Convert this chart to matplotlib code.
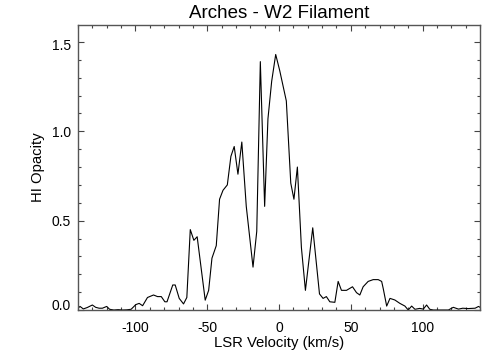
import matplotlib
matplotlib.use("Agg")
import matplotlib.pyplot as plt
import matplotlib.transforms as mtransforms
from matplotlib.ticker import MultipleLocator

velocity = [-140.0, -138.6, -136.3, -133.5, -130.0, -127.7, -125.3, -123.0, -120.0, -118.0,
            -115.0, -112.0, -109.0, -106.0, -103.0, -101.0, -99.8, -97.4, -95.0, -91.6,
            -87.4, -84.6, -82.0, -79.5, -78.0, -74.0, -72.3, -69.5, -66.5, -64.2,
            -61.8, -59.3, -57.0, -51.4, -49.0, -46.7, -43.7, -41.4, -39.0, -36.0,
            -33.5, -31.2, -28.6, -25.9, -22.8, -18.1, -15.5, -13.0, -10.0, -7.7,
            -5.1, -2.3, 0.5, 5.1, 8.2, 10.4, 12.8, 15.6, 18.4, 23.5,
            28.2, 30.7, 33.0, 35.4, 38.9, 41.2, 43.5, 47.0, 51.2, 54.0,
            56.3, 58.6, 62.1, 65.6, 69.1, 71.5, 72.6, 75.0, 77.3, 80.7,
            84.2, 87.7, 90.0, 92.4, 94.7, 98.0, 100.5, 102.8, 105.0, 107.5,
            112.0, 118.0, 121.4, 125.0, 128.0, 131.7, 136.6, 139.0, 140.0]
opacity = [0.010, 0.020, 0.006, 0.014, 0.028, 0.015, 0.010, 0.010, 0.020, 0.004,
           0.000, 0.002, 0.000, 0.001, 0.004, 0.020, 0.030, 0.037, 0.024, 0.070,
           0.084, 0.075, 0.075, 0.046, 0.046, 0.140, 0.140, 0.065, 0.034, 0.070,
           0.450, 0.390, 0.410, 0.055, 0.110, 0.290, 0.360, 0.620, 0.670, 0.700,
           0.860, 0.915, 0.760, 0.940, 0.580, 0.240, 0.440, 1.390, 0.580, 1.070,
           1.280, 1.430, 1.340, 1.170, 0.710, 0.620, 0.800, 0.350, 0.110, 0.460,
           0.090, 0.065, 0.075, 0.046, 0.043, 0.160, 0.110, 0.110, 0.130, 0.097,
           0.084, 0.130, 0.160, 0.170, 0.170, 0.160, 0.120, 0.022, 0.065, 0.056,
           0.037, 0.022, 0.000, 0.022, 0.004, 0.009, 0.005, 0.028, 0.004, 0.000,
           0.000, 0.000, 0.015, 0.005, 0.010, 0.008, 0.010, 0.020, 0.015]

title = "Arches - W2 Filament"
xlabel = "LSR Velocity (km/s)"
ylabel = "HI Opacity"
xticks = [-100, -50, 0, 50, 100]
yticks = [0.0, 0.5, 1.0, 1.5]

plt.rcParams['font.family'] = ['Liberation Sans', 'DejaVu Sans']

fig = plt.figure(figsize=(5.04, 3.6), dpi=100)
ax = fig.add_axes([78/504, 50/360, 402/504, 285/360])
ax.plot(velocity, opacity, color='black', linewidth=0.8)
ax.set_xlim(-140, 140)
ax.set_ylim(0.0, 1.595)
ax.set_xticks(xticks)
ax.set_xticklabels([str(t) for t in xticks])
ax.set_yticks(yticks)
ax.set_yticklabels([f"{t:.1f}" for t in yticks])
ax.xaxis.set_minor_locator(MultipleLocator(10))
ax.yaxis.set_minor_locator(MultipleLocator(0.1))
ax.tick_params(which='both', direction='in', top=True, right=True, color='#444444',
               labelsize=10, width=0.8)
ax.tick_params(which='major', length=4.5)
ax.tick_params(which='minor', length=2.5)
ax.tick_params(axis='x', pad=8)
ax.tick_params(axis='y', pad=5)
for s in ax.spines.values():
    s.set_color('#555555')
    s.set_linewidth(1.0)

# IDL-style: bottom y label nudged up, top one nudged down
ylabels = ax.get_yticklabels()
ylabels[0].set_transform(ylabels[0].get_transform() +
                         mtransforms.ScaledTranslation(0, 5/100, fig.dpi_scale_trans))
ylabels[-1].set_transform(ylabels[-1].get_transform() +
                          mtransforms.ScaledTranslation(0, -3/100, fig.dpi_scale_trans))

ax.set_xlabel(xlabel, fontsize=10.7, labelpad=1)
ax.set_ylabel(ylabel, fontsize=10.7, labelpad=5)
ax.set_title(title, fontsize=13.5, pad=5)
fig.savefig("out.png", dpi=100)
